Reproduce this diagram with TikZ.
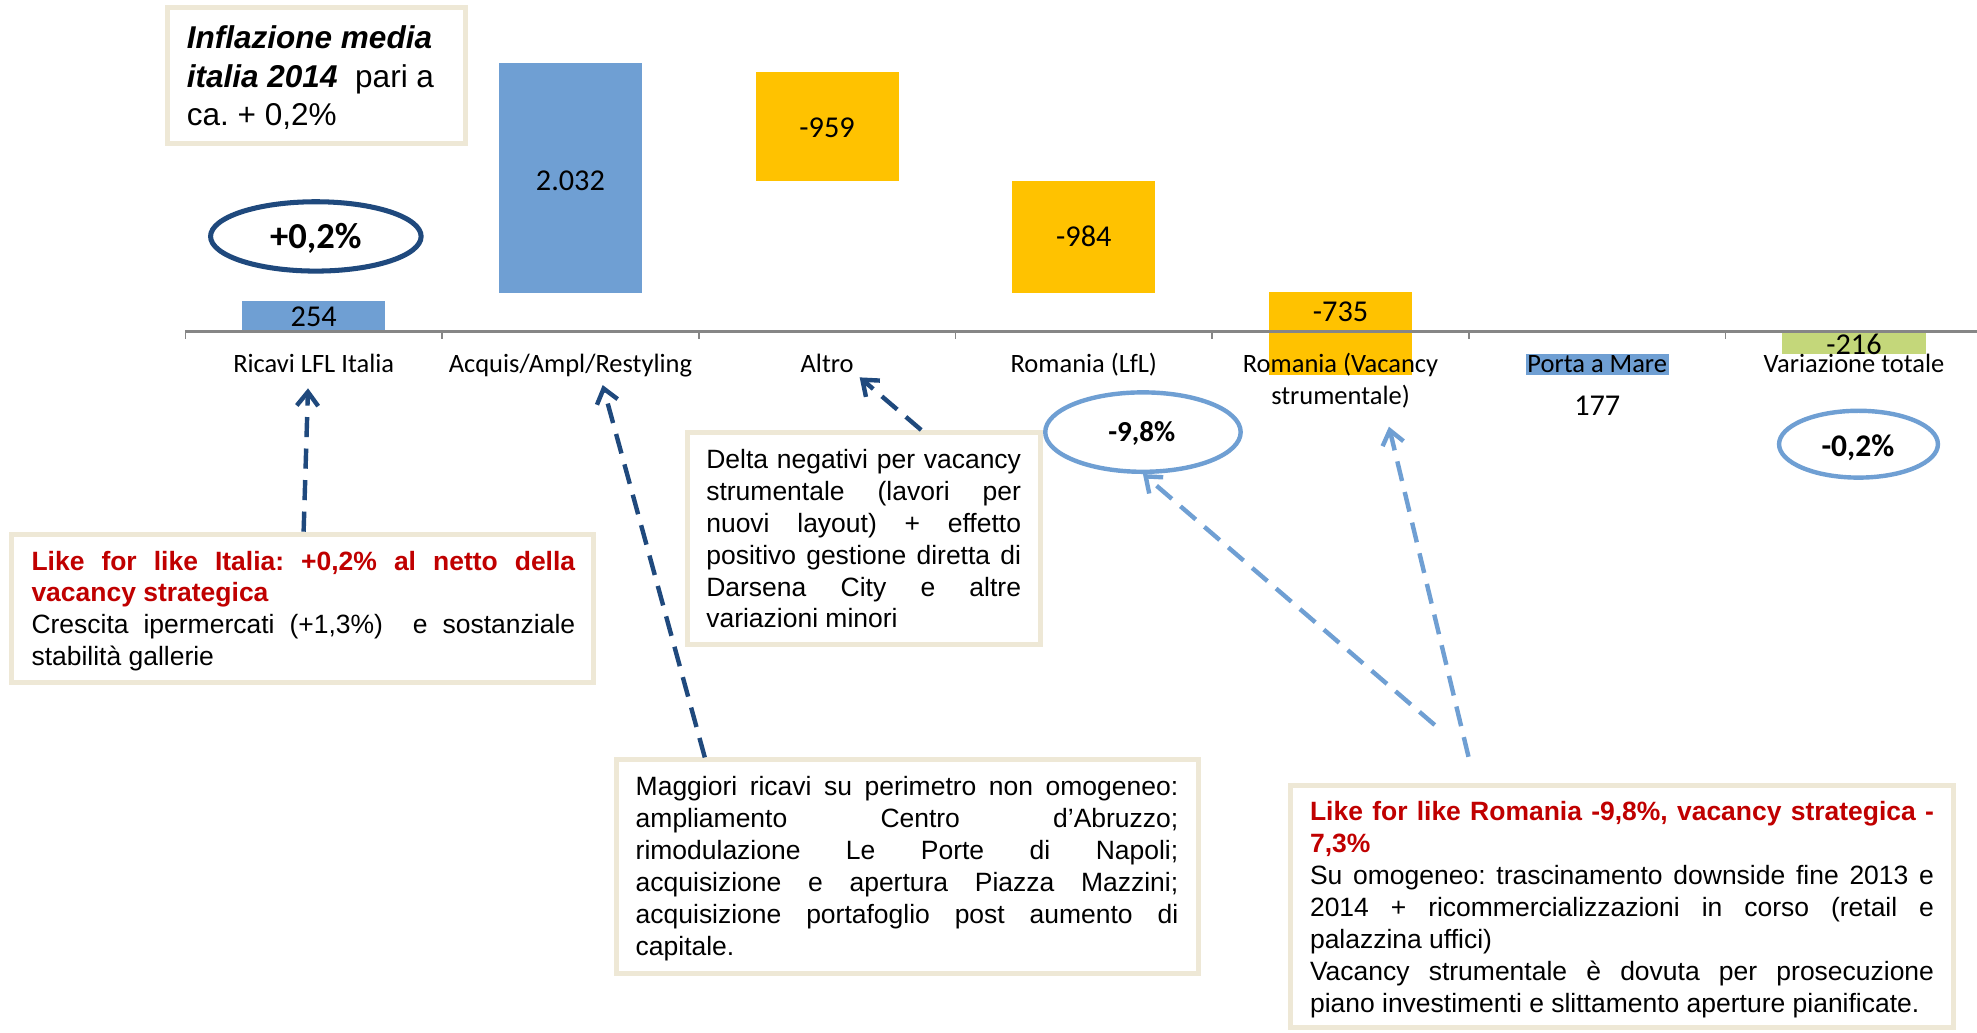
\documentclass[tikz,border=0pt]{standalone}
\usepackage{fontspec}
\setmainfont{Liberation Sans}
\newfontfamily\calfont{Carlito}
\usetikzlibrary{arrows.meta,shapes.geometric}
\definecolor{barblue}{RGB}{111,159,211}
\definecolor{barorange}{RGB}{255,194,0}
\definecolor{bargreen}{RGB}{196,215,122}
\definecolor{darkblue}{RGB}{31,73,125}
\definecolor{lightblue}{RGB}{111,159,211}
\definecolor{beige}{RGB}{238,232,214}
\definecolor{axisgray}{RGB}{134,134,134}
\definecolor{redtxt}{RGB}{192,0,0}
\newcommand\jl[1]{\makebox[\hsize][s]{#1}\par}
\newcommand\plainline[1]{\leavevmode#1\par}
\frenchspacing
\begin{document}
\begin{tikzpicture}[x=1pt,y=-1pt,
  barbox/.style={rectangle,inner sep=0pt,outer sep=0pt,draw=none,minimum width=113.5pt},
  val/.style={anchor=base,inner sep=0pt,font=\calfont\fontsize{24}{28}\selectfont},
  lab/.style={anchor=base,inner sep=0pt,font=\calfont\fontsize{21}{25}\selectfont},
  notebox/.style={rectangle,draw=beige,line width=4pt,fill=white,inner sep=0pt},
  notetext/.style={anchor=base west,inner sep=0pt,font=\fontsize{21}{25.3}\selectfont},
  oval/.style={ellipse,inner sep=0pt},
  ovaltext/.style={anchor=base,inner sep=0pt},
  darr/.style={draw=darkblue,line width=3.5pt,dash pattern=on 16pt off 9pt,-{Straight Barb[length=11pt,width=17pt]}},
  larr/.style={draw=lightblue,line width=3.5pt,dash pattern=on 16pt off 9pt,-{Straight Barb[length=11pt,width=17pt]}}
]
\useasboundingbox (0,0) rectangle (1568,819);
\fill[white] (0,0) rectangle (1568,819);

% bars
\node[barbox,fill=barblue,minimum height=23.5pt] (b1) at (248.8,250.5) {};
\node[barbox,fill=barblue,minimum height=182.5pt] (b2) at (452.4,141) {};
\node[barbox,fill=barorange,minimum height=86.8pt] (b3) at (656,100.2) {};
\node[barbox,fill=barorange,minimum height=88.6pt] (b4) at (859.6,187.9) {};
\node[barbox,fill=barorange,minimum height=65.6pt] (b5) at (1063.2,264.4) {};
\node[barbox,fill=barblue,minimum height=16.6pt] (b6) at (1266.8,289.1) {};
\node[barbox,fill=bargreen,minimum height=18.5pt] (b7) at (1470.4,271.75) {};

% axis
\coordinate (ax0) at (147,263);
\coordinate (ax1) at (1568,263);
\draw[axisgray,line width=2pt] (ax0) -- (ax1);
\foreach \i in {0,...,6} \draw[axisgray,line width=1.2pt] (147+203.6*\i,263) -- ++(0,6);

% values
\node[val] (v1) at (248.8,259) {254};
\node[val] (v2) at (452.4,150.7) {2.032};
\node[val] (v3) at (656,109) {-959};
\node[val] (v4) at (859.6,195.7) {-984};
\node[val] (v5) at (1063.2,255.2) {-735};
\node[val] (v6) at (1266.8,329.7) {177};
\node[val] (v7) at (1470.4,280.8) {-216};

% category labels
\node[lab] (l1) at (248.8,295.6) {Ricavi LFL Italia};
\node[lab] (l2) at (452.4,295.6) {Acquis/Ampl/Restyling};
\node[lab] (l3) at (656,295.6) {Altro};
\node[lab] (l4) at (859.6,295.6) {Romania (LfL)};
\node[lab] (l5a) at (1063.2,295.6) {Romania (Vacancy};
\node[lab] (l5b) at (1063.2,320.5) {strumentale)};
\node[lab] (l6) at (1266.8,295.6) {Porta a Mare};
\node[lab] (l7) at (1470.4,295.6) {Variazione totale};

% ellipses
\node[oval,draw=darkblue,line width=4pt,minimum width=167pt,minimum height=55pt] (e1) at (250.5,187.5) {};
\node[ovaltext,font=\calfont\bfseries\fontsize{29}{34}\selectfont] (e1t) at (250.5,197) {+0,2\%};
\node[oval,draw=lightblue,line width=3.5pt,minimum width=155pt,minimum height=63pt] (e2) at (906.5,342.7) {};
\node[ovaltext,font=\calfont\bfseries\fontsize{23}{28}\selectfont] (e2t) at (905.5,350.3) {-9,8\%};
\node[oval,draw=lightblue,line width=3.5pt,minimum width=126pt,minimum height=53pt] (e3) at (1474,352.3) {};
\node[ovaltext,font=\calfont\bfseries\fontsize{25}{30}\selectfont] (e3t) at (1473.5,361.7) {-0,2\%};

% note boxes
\node[notebox,minimum width=236pt,minimum height=108pt] (nIN) at (251,60) {};
\node[notebox,minimum width=461.6pt,minimum height=117.6pt] (nIT) at (239.9,482.5) {};
\node[notebox,minimum width=280.3pt,minimum height=168pt] (nAL) at (685.15,427) {};
\node[notebox,minimum width=461.8pt,minimum height=169.2pt] (nMG) at (719.7,687.3) {};
\node[notebox,minimum width=525.9pt,minimum height=192pt] (nRO) at (1286.55,719) {};

\node[anchor=base west,inner sep=0pt,font=\fontsize{25}{30.8}\selectfont] (tIN) at (148,38.3) {\vtop{\hsize=220pt\parindent=0pt\parskip=0pt
\plainline{{\bfseries\itshape Inflazione media}}
\plainline{{\bfseries\itshape italia 2014}\hspace{14pt}pari a}
\plainline{ca. + 0,2\%}}};

\node[notetext] (tIT) at (24.8,452.1) {\vtop{\hsize=431.2pt\parindent=0pt\parskip=0pt
\jl{\bfseries\color{redtxt}Like for like Italia: +0,2\% al netto della}
\plainline{{\bfseries\color{redtxt}vacancy strategica}}
\jl{Crescita ipermercati (+1,3\%)\ \ e sostanziale}
\plainline{stabilità gallerie}}};

\node[notetext] (tAL) at (560,371.5) {\vtop{\hsize=249.6pt\parindent=0pt\parskip=0pt
\jl{Delta negativi per vacancy}
\jl{strumentale (lavori per}
\jl{nuovi layout) + effetto}
\jl{positivo gestione diretta di}
\jl{Darsena City e altre}
\plainline{variazioni minori}}};

\node[notetext] (tMG) at (504,631.1) {\vtop{\hsize=430.3pt\parindent=0pt\parskip=0pt
\jl{Maggiori ricavi su perimetro non omogeneo:}
\jl{ampliamento Centro d’Abruzzo;}
\jl{rimodulazione Le Porte di Napoli;}
\jl{acquisizione e apertura Piazza Mazzini;}
\jl{acquisizione portafoglio post aumento di}
\plainline{capitale.}}};

\node[notetext] (tRO) at (1038.8,650.9) {\vtop{\hsize=494.9pt\parindent=0pt\parskip=0pt
\jl{\bfseries\color{redtxt}Like for like Romania -9,8\%, vacancy strategica -}
\plainline{{\bfseries\color{redtxt}7,3\%}}
\jl{Su omogeneo: trascinamento downside fine 2013 e}
\jl{2014 + ricommercializzazioni in corso (retail e}
\plainline{palazzina uffici)}
\jl{Vacancy strumentale è dovuta per prosecuzione}
\plainline{piano investimenti e slittamento aperture pianificate.}}};

% arrows
\coordinate (a1t) at (244.3,308);
\coordinate (a2t) at (478,305.4);
\coordinate (a3t) at (681.8,299.3);
\coordinate (a4s) at (1137.9,575);
\coordinate (a5s) at (1164.7,600.2);
\coordinate (a5t) at (1101.6,338.4);
\draw[darr] ([xshift=0.9pt]nIT.north) -- (a1t);
\draw[darr] ([xshift=-160.7pt]nMG.north) -- (a2t);
\draw[darr] ([xshift=45.45pt]nAL.north) -- (a3t);
\draw[larr] (a4s) -- (e2.south);
\draw[larr] (a5s) -- (a5t);
\end{tikzpicture}
\end{document}
